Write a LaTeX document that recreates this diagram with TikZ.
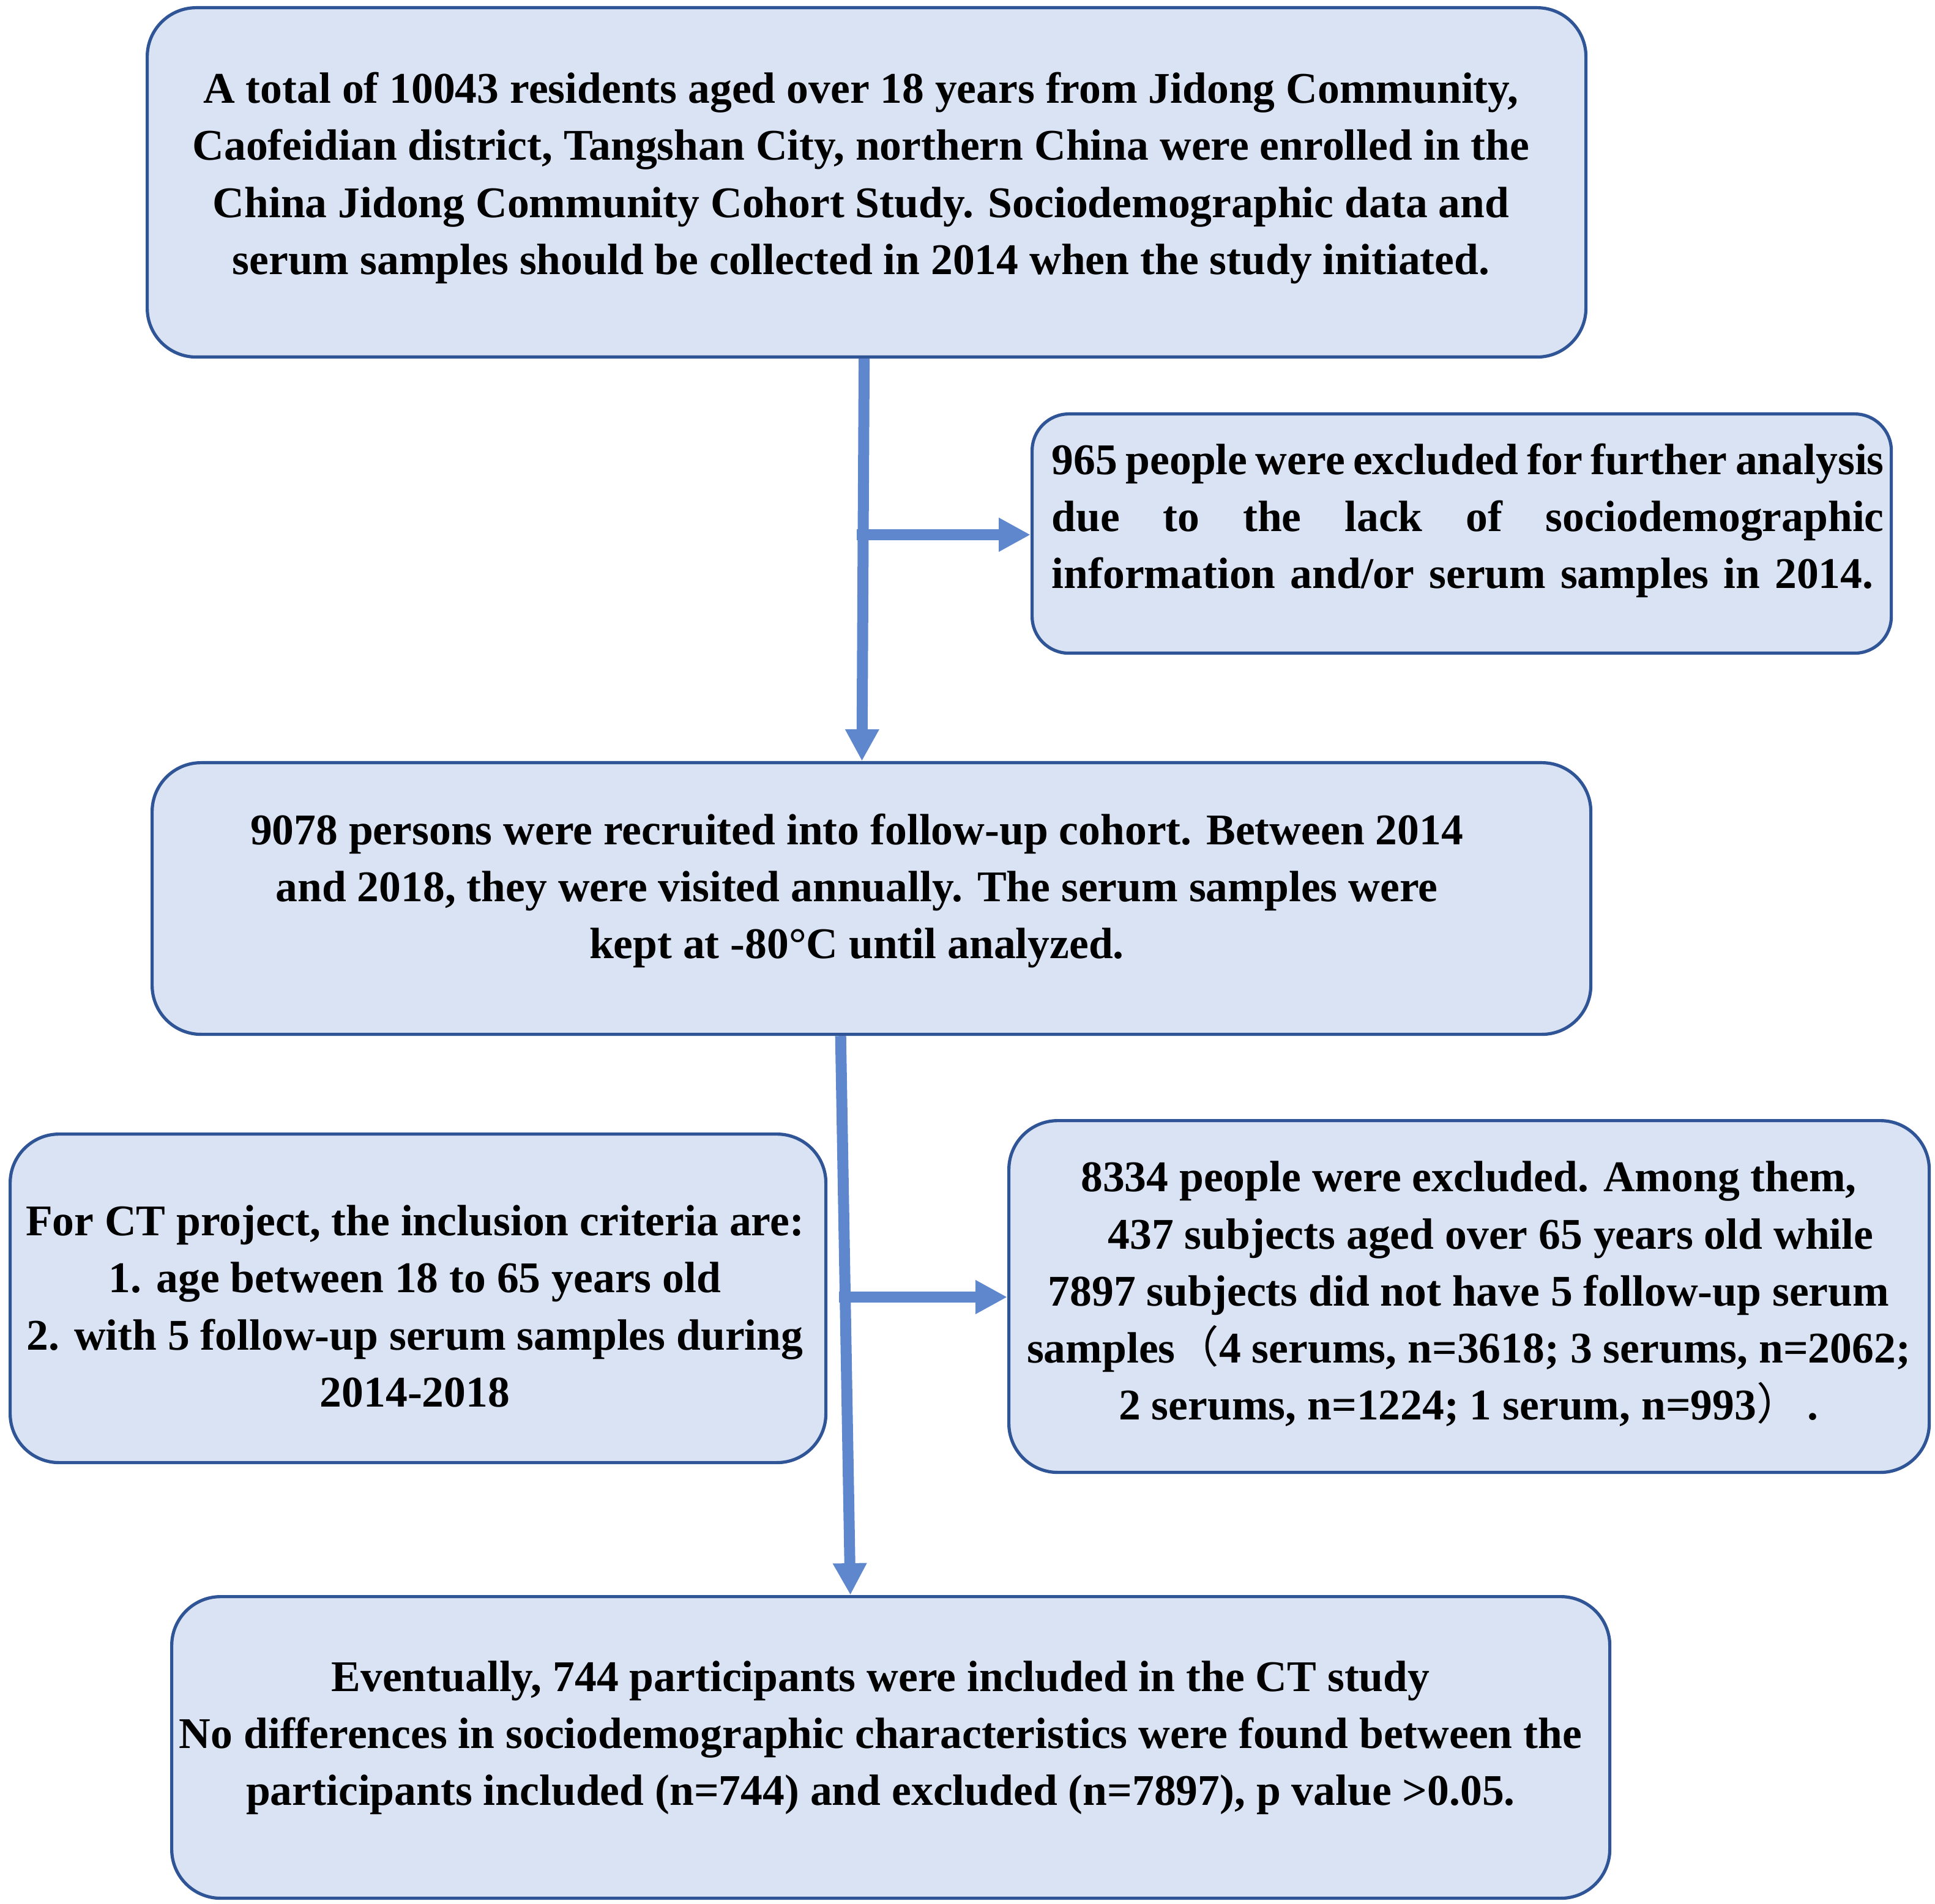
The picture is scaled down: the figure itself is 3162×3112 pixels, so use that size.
\documentclass[tikz,border=0pt]{standalone}
\usepackage{fontspec}
\setmainfont{Liberation Serif}
\newfontfamily\cjk{Noto Sans CJK SC}
\usetikzlibrary{arrows.meta,calc}
\definecolor{boxfill}{RGB}{218,227,243}
\definecolor{boxline}{RGB}{47,85,151}
\definecolor{arrowc}{RGB}{95,135,205}
\begin{document}
\begin{tikzpicture}[x=0.25pt,y=-0.25pt,
 box/.style={draw=boxline, fill=boxfill, line width=1.3pt, rounded corners=20pt, inner sep=0pt, anchor=north west},
 txt/.style={font=\fontsize{17.9}{23.3}\selectfont\bfseries, align=center, inner sep=0pt},
 arr/.style={draw=arrowc, line width=4.5pt, -{Triangle[length=13pt,width=13pt]}}]
\useasboundingbox (0,0) rectangle (3162,3112);

\node[box, minimum width=587.75pt, minimum height=142.75pt] (b1) at (238,10) {};
\node[box, rounded corners=15pt, minimum width=351pt, minimum height=97.75pt] (b2) at (1684,674) {};
\node[box, minimum width=587.75pt, minimum height=111pt] (b3) at (246,1244) {};
\node[box, minimum width=333.25pt, minimum height=134.25pt] (b4) at (14,1851) {};
\node[box, minimum width=376pt, minimum height=143.75pt] (b5) at (1646,1829) {};
\node[box, minimum width=587.5pt, minimum height=123.25pt] (b6) at (278,2607) {};

\node[txt] (t1) at (1407,291) {A total of 10043 residents aged over 18 years from Jidong Community,\\
Caofeidian district, Tangshan City, northern China were enrolled in the\\
China Jidong Community Cohort Study. Sociodemographic data and\\
serum samples should be collected in 2014 when the study initiated.};

\node[txt, align=left, text width=340.5pt, anchor=west] (t2) at (1718,851) {\makebox[340pt][l]{965\hfill people\hfill were\hfill excluded\hfill for\hfill further\hfill analysis}\\
\makebox[340pt][l]{due\hfill to\hfill the\hfill lack\hfill of\hfill sociodemographic}\\
information and/or serum samples in 2014.};

\node[txt] (t3) at (1400,1456) {9078 persons were recruited into follow-up cohort. Between 2014\\
and 2018, they were visited annually. The serum samples were\\
kept at -80°C until analyzed.};

\node[txt] (t4) at (678,2135) {For CT project, the inclusion criteria are:\\
1. age between 18 to 65 years old\\
2. with 5 follow-up serum samples during\\
2014-2018};

\node[txt] (t5) at (2400,2115) {8334 people were excluded. Among them,\\
\hspace*{18pt}437 subjects aged over 65 years old while\\
7897 subjects did not have 5 follow-up serum\\
samples{\cjk\mdseries （}4 serums, n=3618; 3 serums, n=2062;\\
2 serums, n=1224; 1 serum, n=993{\cjk\mdseries ）}\,.};

\node[txt] (t6) at (1439,2840) {Eventually, 744 participants were included in the CT study\\
No differences in sociodemographic characteristics were found between the\\
participants included (n=744) and excluded (n=7897), p value >0.05.};

\coordinate (j1) at (1400,874);
\coordinate (j2) at (1371,2120);
\draw[arr] ([xshift=-1pt]b1.south) -- ([xshift=-3.9pt]b3.north);
\draw[arr] (j1) -- (j1 -| b2.west);
\draw[arr] ([xshift=-12.6pt]b3.south) -- ([xshift=-16.5pt]b6.north);
\draw[arr] (j2) -- (j2 -| b5.west);
\end{tikzpicture}
\end{document}
